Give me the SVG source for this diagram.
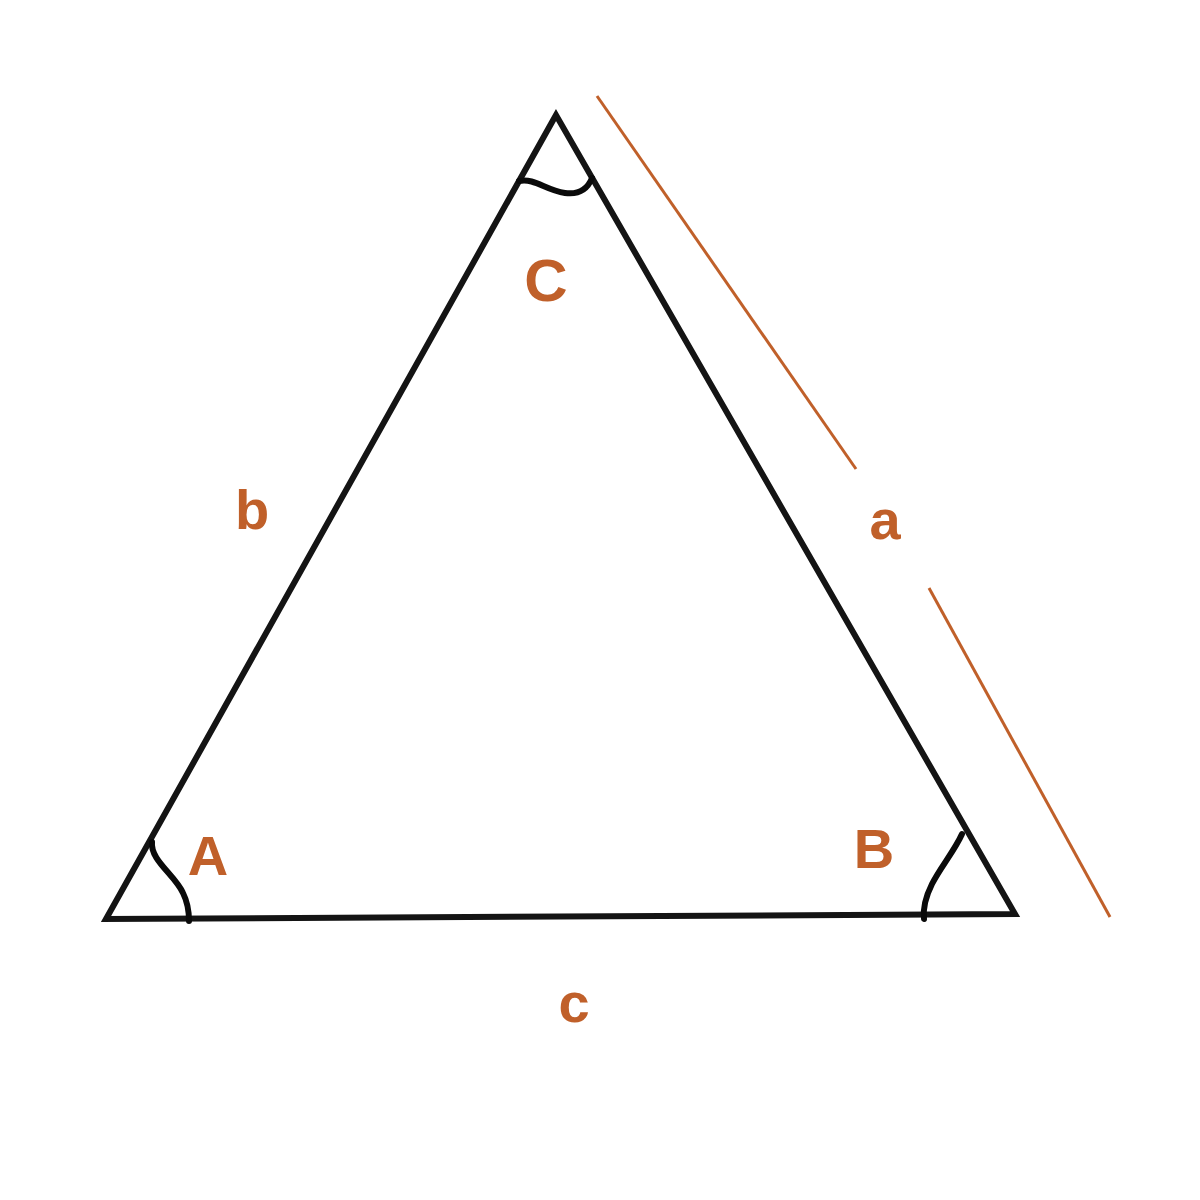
<svg xmlns="http://www.w3.org/2000/svg" width="1200" height="1200" viewBox="0 0 1200 1200">
<style>
.edge{fill:none;stroke:#141414;stroke-width:6;stroke-linejoin:miter}
.arc{fill:none;stroke:#0a0a0a;stroke-width:6;stroke-linecap:round}
.side{stroke:#c0602a;stroke-width:3;fill:none}
.lbl{font-family:"Liberation Sans",Arial,sans-serif;font-weight:bold;fill:#c0602a;text-anchor:middle}
</style>
<rect width="1200" height="1200" fill="#fff"/>
<g id="triangle">
<polygon class="edge" points="556,115 106,919 1015,914"/>
</g>
<g id="angles">
<path id="angleC" class="arc" d="M519,181 C535,178 545,190 565,193 C580,195 588,188 592,178"/>
<path id="angleA" class="arc" d="M152,842 C150,860 175,875 183,893 C188,903 189,912 189,921"/>
<path id="angleB" class="arc" d="M962,834 C955,850 940,868 932,884 C925,898 923,910 924,919"/>
</g>
<g id="connectors">
<line class="side" x1="597" y1="96" x2="856" y2="469"/>
<line class="side" x1="929" y1="588" x2="1110" y2="917"/>
</g>
<g id="labels">
<text class="lbl" x="546" y="301" font-size="60">C</text>
<text class="lbl" x="208" y="875" font-size="56">A</text>
<text class="lbl" x="874" y="868" font-size="56">B</text>
<text class="lbl" x="252" y="529" font-size="56">b</text>
<text class="lbl" x="885" y="539" font-size="56">a</text>
<text class="lbl" x="574" y="1022" font-size="56">c</text>
</g>
</svg>
